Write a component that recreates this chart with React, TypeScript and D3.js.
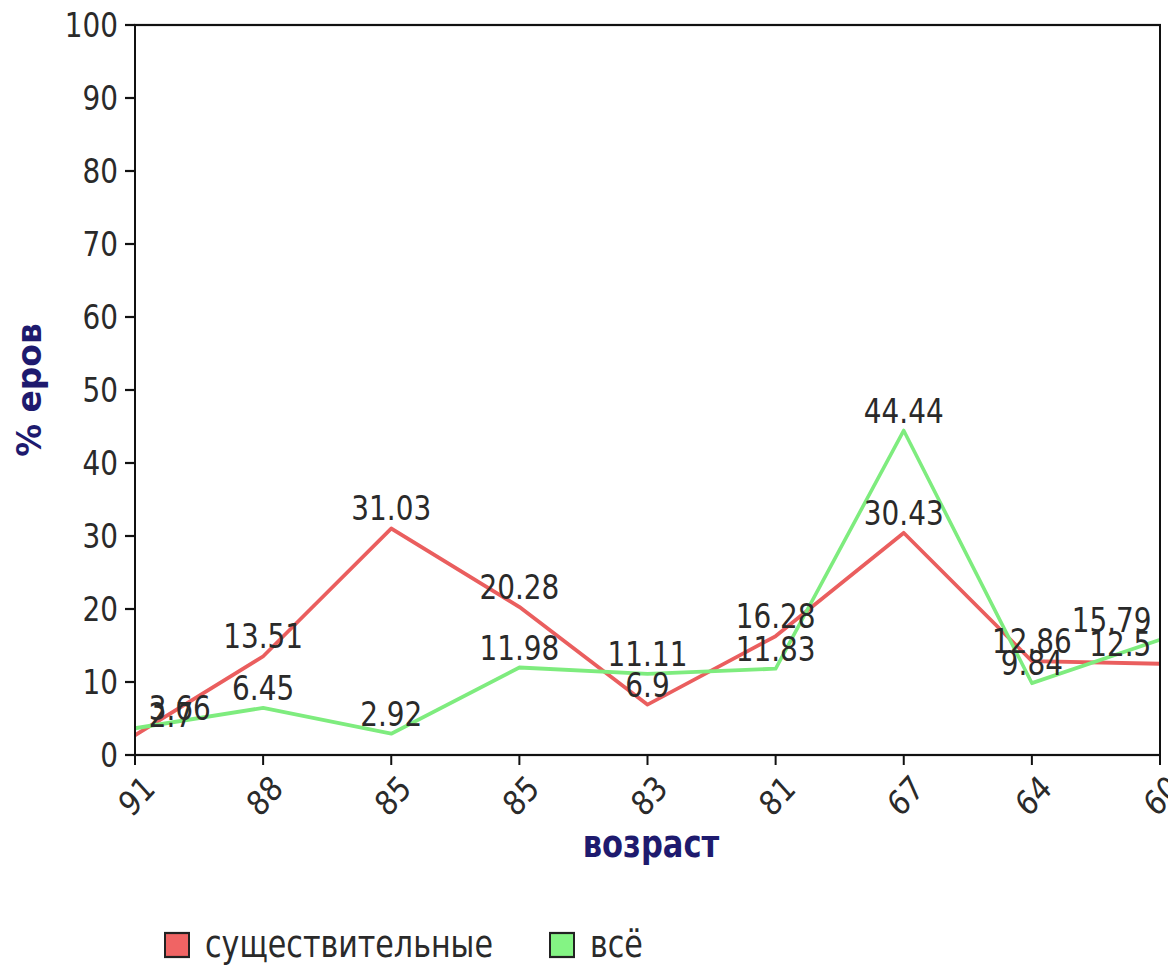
import React from "react";
import * as d3 from "d3";

const categories = ["91", "88", "85", "85", "83", "81", "67", "64", "60"];
const nounValues = [2.7, 13.51, 31.03, 20.28, 6.9, 16.28, 30.43, 12.86, 12.5];
const allValues = [3.66, 6.45, 2.92, 11.98, 11.11, 11.83, 44.44, 9.84, 15.79];
const yTicks = [0, 10, 20, 30, 40, 50, 60, 70, 80, 90, 100];
const seriesNames = ["существительные", "всё"];
const seriesColors = ["#ea5e5e", "#7eec7e"];
const legendFill = ["#f06464", "#84f484"];

const W = 1168;
const H = 967;
const SY = 1.105;
const UH = H / SY;
const py = (p: number) => p / SY;

const FONT = "'DejaVu Sans Condensed', 'DejaVu Sans', sans-serif";
const TEXT = "#2a2a2a";
const NAVY = "#1e1a6e";

export default function App() {
  const left = 135, right = 1160, top = py(25), bottom = py(755);
  const x = d3.scalePoint<number>().domain(d3.range(categories.length)).range([left, right]);
  const y = d3.scaleLinear().domain([0, 100]).range([bottom, top]);
  const line = d3
    .line<number>()
    .x((_, i) => x(i) as number)
    .y((d) => y(d));

  const labelW = (s: string) => s.length * 31 * 0.56;
  const dataLabel = (v: number, i: number, k: string) => {
    const s = String(v);
    const w = labelW(s);
    let cx = x(i) as number;
    cx = Math.max(145 + w / 2, Math.min(1155 - w / 2, cx));
    return (
      <text key={k} x={cx} y={y(v) - py(8)} textAnchor="middle" fontSize={31} fill={TEXT} fontFamily={FONT}>
        {s}
      </text>
    );
  };

  return (
    <svg
      width={W}
      height={H}
      viewBox={`0 0 ${W} ${UH}`}
      preserveAspectRatio="none"
      style={{ position: "absolute", left: 0, top: 0, background: "#fff" }}
      fontFamily={FONT}
    >
      <rect x={0} y={0} width={W} height={UH} fill="#fff" />
      {/* series lines */}
      <path d={line(nounValues) || ""} fill="none" stroke={seriesColors[0]} strokeWidth={3.5} strokeLinejoin="round" />
      <path d={line(allValues) || ""} fill="none" stroke={seriesColors[1]} strokeWidth={3.5} strokeLinejoin="round" />
      {/* frame */}
      <rect x={left} y={top} width={right - left} height={bottom - top} fill="none" stroke="#111" strokeWidth={2} />
      {/* y axis ticks */}
      {yTicks.map((t) => (
        <g key={"y" + t}>
          <line x1={left - 10} x2={left} y1={y(t)} y2={y(t)} stroke="#111" strokeWidth={2} />
          <text x={left - 17} y={y(t)} dy="0.36em" textAnchor="end" fontSize={31} fill={TEXT}>
            {t}
          </text>
        </g>
      ))}
      {/* x axis ticks */}
      {categories.map((c, i) => {
        const xx = x(i) as number;
        return (
          <g key={"x" + i}>
            <line x1={xx} x2={xx} y1={bottom} y2={bottom + py(10)} stroke="#111" strokeWidth={2} />
            <text
              transform={`translate(${xx + 6},${bottom + py(18)}) rotate(-45)`}
              textAnchor="end"
              dy="0.72em"
              fontSize={31}
              fill={TEXT}
            >
              {c}
            </text>
          </g>
        );
      })}
      {/* data labels */}
      {nounValues.map((v, i) => dataLabel(v, i, "n" + i))}
      {allValues.map((v, i) => dataLabel(v, i, "a" + i))}
      {/* axis titles */}
      <text x={651} y={py(857)} textAnchor="middle" fontSize={34} fontWeight="bold" fill={NAVY}>
        возраст
      </text>
      <text
        transform={`translate(${41},${py(390)}) rotate(-90)`}
        textAnchor="middle"
        fontSize={33}
        fontWeight="bold"
        fill={NAVY}
      >
        % еров
      </text>
      {/* legend */}
      {seriesNames.map((n, i) => {
        const lx = i === 0 ? 165 : 550;
        return (
          <g key={"l" + i}>
            <rect x={lx} y={py(933)} width={24} height={py(24)} fill={legendFill[i]} stroke="#222" strokeWidth={2} />
            <text x={lx + 40} y={py(957)} fontSize={33.5} fill={TEXT}>
              {n}
            </text>
          </g>
        );
      })}
    </svg>
  );
}
